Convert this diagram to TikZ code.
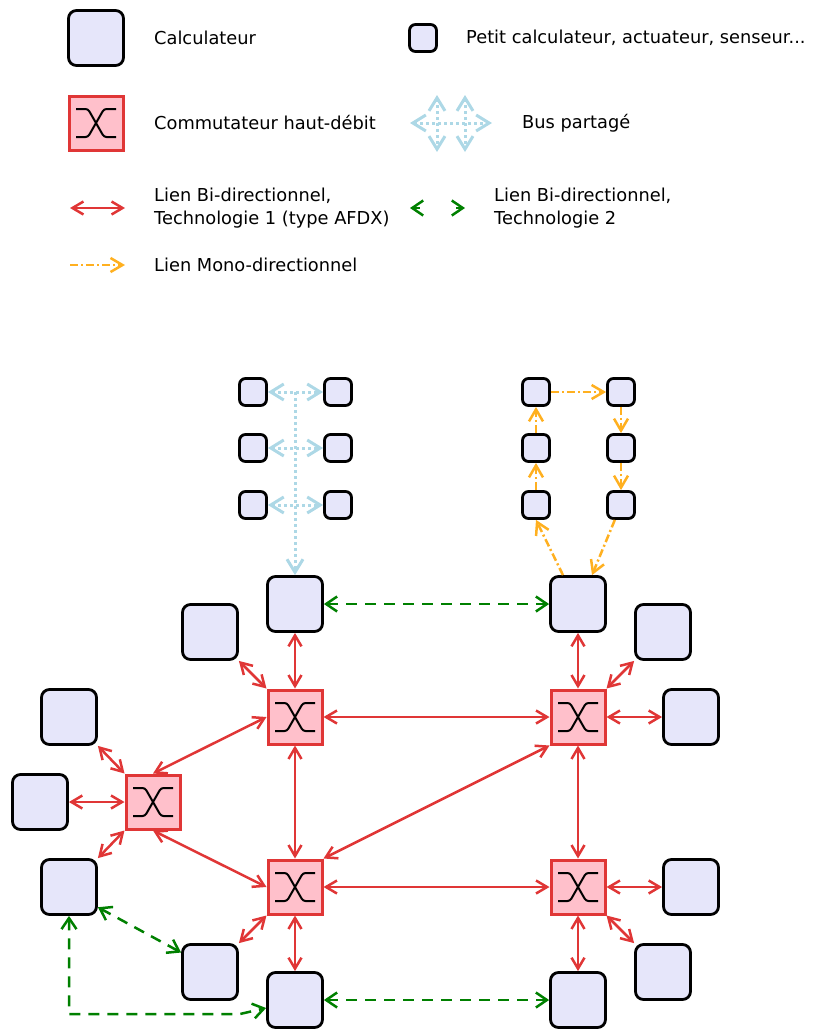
\documentclass[tikz,border=0pt]{standalone}
\usepackage{fontspec}
\setmainfont{DejaVu Sans}
\usepackage{xcolor}
\usepackage{tikz}
\usetikzlibrary{arrows.meta}

\definecolor{rouge}{RGB}{224,54,54}
\definecolor{rosefond}{RGB}{255,192,203}
\definecolor{lavande}{RGB}{230,230,250}
\definecolor{vert}{RGB}{0,128,0}
\definecolor{bleubus}{RGB}{173,216,230}
\definecolor{orangeL}{RGB}{255,176,32}

\begin{document}
\begin{tikzpicture}[x=1pt,y=-1pt,
  font=\fontsize{17.8}{23}\selectfont,
  >={Straight Barb[length=11pt,width=13pt]},
  calcul/.style={draw=black,line width=2.8pt,fill=lavande,rounded corners=8pt,minimum size=55pt,inner sep=0pt},
  petit/.style={calcul,rounded corners=6pt,minimum size=27pt},
  commut/.style={draw=rouge,line width=3pt,fill=rosefond,minimum size=54pt,inner sep=0pt,
    path picture={\draw[black,line width=2pt,rounded corners=2.5pt,shift={(path picture bounding box.center)}]
      (-20,-14) -- (-8,-14) -- (8,14) -- (20,14)
      (-20,14) -- (-8,14) -- (8,-14) -- (20,-14);}},
  lien/.style={rouge,line width=2.5pt,<->},
  lienvert/.style={vert,line width=2.5pt,dash pattern=on 11pt off 8pt,<->,>={Straight Barb[length=11pt,width=15pt]}},
  mono/.style={orangeL,line width=2.5pt,dash pattern=on 8pt off 3pt on 2pt off 3pt,->,>={Straight Barb[length=12pt,width=14pt]}},
  bus/.style={bleubus,line width=3pt,dash pattern=on 3pt off 3pt,>={Straight Barb[length=13pt,width=16pt]}},
  txt/.style={anchor=west,inner sep=0pt,align=left}]
  \useasboundingbox (0,0) rectangle (814,1029);
  % Chú thích
  \node[calcul] (lgCalc) at (96,38) {};
  \node[txt] at (154,38) {Calculateur};
  \node[petit] (lgPetit) at (423,38) {};
  \node[txt] at (466,38) {Petit calculateur, actuateur, senseur...};
  \node[commut] (lgComm) at (96,123) {};
  \node[txt] at (154,123) {Commutateur haut-débit};
  \draw[bus,<->] (410,123) -- (492,123);
  \foreach \x in {437,465}
  \draw[bus,<->] (\x,95) -- (\x,152);
  \node[txt] at (522,123) {Bus partagé};
  \draw[lien] (70,208) -- (125,208);
  \node[txt] at (154,208) {Lien Bi-directionnel,\\Technologie 1 (type AFDX)};
  \draw[lienvert,dash pattern=on 7pt off 36pt on 12pt] (410,208) -- (465,208);
  \node[txt] at (494,208) {Lien Bi-directionnel,\\Technologie 2};
  \draw[mono] (70,265) -- (125,265);
  \node[txt] at (154,265) {Lien Mono-directionnel};

  % Commutateurs
  \node[commut] (sw1) at (295,717) {};
  \node[commut] (sw2) at (578,717) {};
  \node[commut] (sw3) at (153,802) {};
  \node[commut] (sw4) at (295,887) {};
  \node[commut] (sw5) at (578,887) {};
  % Calculateurs
  \foreach \n/\x/\y in {cA/295/604,cB/578/604,cC/210/632,cD/663/632,cE/69/717,cF/691/717,cG/40/802,
    cH/69/887,cI/691/887,cJ/210/972,cK/663/972,cL/295/1000,cM/578/1000}
  \node[calcul] (\n) at (\x,\y) {};
  % Petits calculateurs
  \foreach \r/\y in {1/392,2/448,3/505} {
    \node[petit] (bg\r) at (253,\y) {};
    \node[petit] (bd\r) at (338,\y) {};
    \node[petit] (rg\r) at (536,\y) {};
    \node[petit] (rd\r) at (621,\y) {};
    \draw[bus,<->] (bg\r) -- (bd\r);
  }
  \coordinate (busH) at (295,392);
  \draw[bus,->] (busH) -- (cA);
  % Anneau
  \draw[mono] (rg3) -- (rg2);
  \draw[mono] (rg2) -- (rg1);
  \draw[mono] (rg1) -- (rd1);
  \draw[mono] (rd1) -- (rd2);
  \draw[mono] (rd2) -- (rd3);
  \draw[mono] ([xshift=-15pt]cB.north) -- (rg3.south);
  \draw[mono] (rd3) -- ([xshift=14pt]cB.north);
  % Liens rouges
  \foreach \a/\b in {sw1/cA,sw1/sw2,sw1/sw4,sw2/cB,sw2/cF,sw2/sw5,sw3/cG,sw4/sw5,sw4/cL,sw5/cI,sw5/cM,
    sw1.north west/cC.south east,sw2.north east/cD.south west,sw3.north west/cE.south east,
    sw3.south west/cH.north east,sw4.south west/cJ.north east,sw5.south east/cK.north west,
    sw1.west/sw3.north,sw3.south/sw4.west,sw2.south west/sw4.north east}
  \draw[lien] (\a) -- (\b);
  % Liens verts
  \draw[lienvert] (cA) -- (cB);
  \draw[lienvert] (cL) -- (cM);
  \draw[lienvert] (cH.-35) -- (cJ.146);
  \draw[lienvert] (cH.south) |- (240,1014) -- ([yshift=-8pt]cL.west);
\end{tikzpicture}
\end{document}
